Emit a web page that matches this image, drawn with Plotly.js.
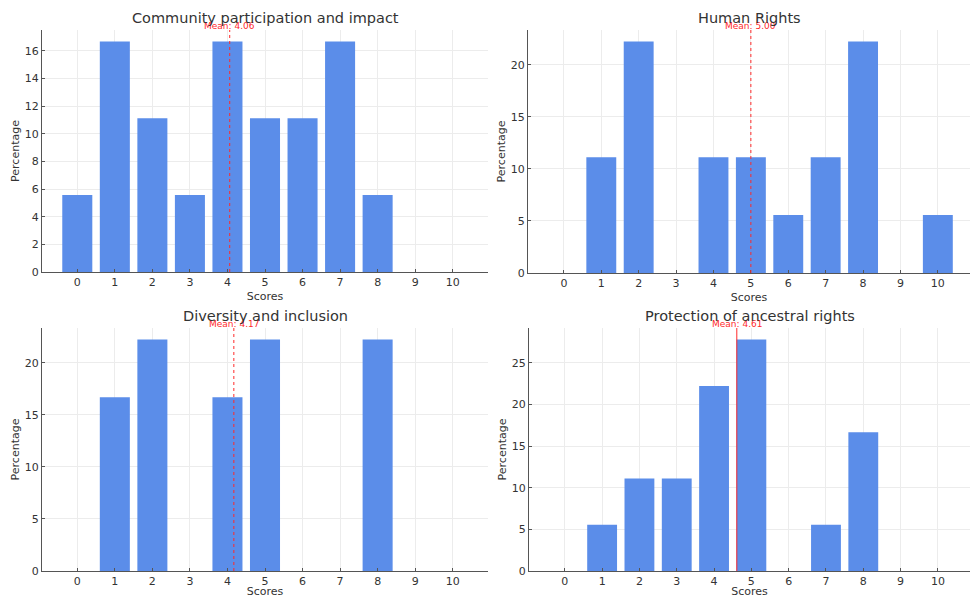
<!DOCTYPE html>
<html>
<head>
<meta charset="utf-8">
<script src="https://cdn.plot.ly/plotly-3.0.1.min.js"></script>
<style>
  html, body { margin: 0; padding: 0; background: #fff; }
  #chart { width: 970px; height: 598px; }
</style>
</head>
<body>
<div id="chart"></div>
<script>
// ---- Data ----
const scores = [0, 1, 2, 3, 4, 5, 6, 7, 8, 9, 10];
const communityPct  = [5.56, 16.67, 11.11, 5.56, 16.67, 11.11, 11.11, 16.67, 5.56, 0, 0];
const humanRightsPct = [0, 11.11, 22.22, 0, 11.11, 11.11, 5.56, 11.11, 22.22, 0, 5.56];
const diversityPct  = [0, 16.67, 22.22, 0, 16.67, 22.22, 0, 0, 22.22, 0, 0];
const ancestralPct  = [0, 5.56, 11.11, 11.11, 22.22, 27.78, 0, 5.56, 16.67, 0, 0];
const panelTitles = ["Community participation and impact", "Human Rights", "Diversity and inclusion", "Protection of ancestral rights"];
const meanValues = [4.06, 5.00, 4.17, 4.61];
const tickLabels = scores.map(String);

const series = [communityPct, humanRightsPct, diversityPct, ancestralPct];

// ---- Layout geometry (styles) ----
const W = 970, H = 598;
const panels = [
  {xd: [42/W, 488/W], yd: [1 - 272/H, 1 - 30/H], xr: [-0.94, 10.94], yr: [0, 17.5], dtick: 2, dash: "dot"},
  {xd: [528/W, 1.0],  yd: [1 - 273/H, 1 - 30/H], xr: [-0.96, 10.86], yr: [0, 23.33], dtick: 5, dash: "dot"},
  {xd: [42/W, 488/W], yd: [1 - 571/H, 1 - 328/H], xr: [-0.94, 10.94], yr: [0, 23.33], dtick: 5, dash: "dot"},
  {xd: [529/W, 1.0],  yd: [1 - 571/H, 1 - 328/H], xr: [-0.96, 10.86], yr: [0, 29.17], dtick: 5, dash: "solid"}
];

const barColor = "#5b8de9";
const fontFam = "DejaVu Sans, sans-serif";
const textColor = "#333";

const data = [];
const layout = {
  width: W, height: H,
  margin: {l: 0, r: 0, t: 0, b: 0},
  paper_bgcolor: "#fff",
  plot_bgcolor: "#fff",
  showlegend: false,
  font: {family: fontFam, color: textColor},
  shapes: [],
  annotations: []
};

panels.forEach((p, i) => {
  const n = i + 1;
  const xa = "x" + (n === 1 ? "" : n);
  const ya = "y" + (n === 1 ? "" : n);
  const xaxisKey = "xaxis" + (n === 1 ? "" : n);
  const yaxisKey = "yaxis" + (n === 1 ? "" : n);

  data.push({
    type: "bar",
    x: scores,
    y: series[i],
    width: 0.8,
    marker: {color: barColor, line: {width: 0}},
    xaxis: xa, yaxis: ya,
    hoverinfo: "x+y"
  });

  layout[xaxisKey] = {
    domain: p.xd,
    anchor: ya,
    range: p.xr,
    tickmode: "array",
    tickvals: scores,
    ticktext: tickLabels,
    ticks: "inside",
    ticklen: 3,
    tickcolor: "#555",
    showgrid: true,
    gridcolor: "#ececec",
    gridwidth: 1,
    showline: true,
    linecolor: "#555",
    linewidth: 1,
    zeroline: false,
    tickfont: {family: fontFam, size: 11, color: textColor},
    title: {text: "Scores", font: {family: fontFam, size: 11, color: textColor}, standoff: 4}
  };
  layout[yaxisKey] = {
    domain: p.yd,
    anchor: xa,
    range: p.yr,
    dtick: p.dtick,
    tick0: 0,
    ticks: "inside",
    ticklen: 3,
    tickcolor: "#555",
    showgrid: true,
    gridcolor: "#ececec",
    gridwidth: 1,
    showline: true,
    linecolor: "#555",
    linewidth: 1,
    zeroline: false,
    tickfont: {family: fontFam, size: 11, color: textColor},
    title: {text: "Percentage", font: {family: fontFam, size: 11, color: textColor}, standoff: 2}
  };

  // Mean line
  layout.shapes.push({
    type: "line",
    xref: xa, yref: ya + " domain",
    x0: meanValues[i], x1: meanValues[i],
    y0: 0, y1: 1,
    line: {color: "#ff2a2a", width: 1, dash: p.dash}
  });

  // Mean label
  layout.annotations.push({
    xref: xa, yref: ya + " domain",
    x: meanValues[i], y: 1,
    xanchor: "center", yanchor: "bottom",
    yshift: -3,
    showarrow: false,
    text: "Mean: " + meanValues[i].toFixed(2),
    font: {family: fontFam, size: 9, color: "#ff2a2a"}
  });

  // Panel title
  layout.annotations.push({
    xref: xa + " domain", yref: ya + " domain",
    x: 0.5, y: 1,
    xanchor: "center", yanchor: "bottom",
    yshift: 2,
    showarrow: false,
    text: panelTitles[i],
    font: {family: fontFam, size: 14.5, color: textColor}
  });
});

Plotly.newPlot("chart", data, layout, {displayModeBar: false, staticPlot: true});
</script>
</body>
</html>
